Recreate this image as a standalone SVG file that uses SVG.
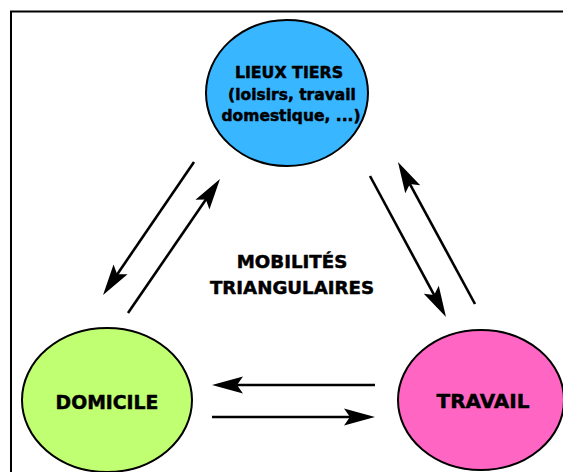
<svg xmlns="http://www.w3.org/2000/svg" width="563" height="472" viewBox="0 0 563 472">
<defs>
<style>
.node{stroke:#000;stroke-width:2}
.t{font-family:"DejaVu Sans","Open Sans",sans-serif;font-weight:bold;fill:#000;stroke:#000;stroke-width:0.5;stroke-linejoin:round;text-anchor:middle}
.c{stroke:#000;stroke-width:2.6;fill:none;marker-end:url(#ah)}
</style>
<marker id="ah" viewBox="-32 -10 34 20" markerWidth="34" markerHeight="20" refX="-24" refY="0" orient="auto" markerUnits="userSpaceOnUse">
<path d="M0,0 L-31,-8.5 L-25,0 L-31,8.5 Z" fill="#000"/>
</marker>
</defs>
<rect x="0" y="0" width="563" height="472" fill="#fff"/>
<rect x="11" y="11.5" width="600" height="500" fill="none" stroke="#000" stroke-width="2"/>
<g id="connectors">
<line class="c" x1="194" y1="162" x2="116.6" y2="275.2"/>
<line class="c" x1="128" y1="313" x2="206.4" y2="198.8"/>
<line class="c" x1="370" y1="176" x2="434.6" y2="295.9"/>
<line class="c" x1="475" y1="304" x2="409.4" y2="183.1"/>
<line class="c" x1="375" y1="385" x2="236" y2="385"/>
<line class="c" x1="212" y1="417" x2="351" y2="417"/>
</g>
<g id="lieux-tiers">
<ellipse class="node" cx="287" cy="93" rx="81" ry="73" fill="#38b6ff"/>
<text class="t" font-size="15.8" x="289" y="78">LIEUX TIERS</text>
<text class="t" font-size="15.5" x="292" y="100">(loisirs, travail</text>
<text class="t" font-size="15.5" x="291" y="121">domestique, ...)</text>
</g>
<g id="domicile">
<ellipse class="node" cx="107" cy="400" rx="85" ry="72" fill="#c1ff72"/>
<text class="t" font-size="18.8" x="107" y="409">DOMICILE</text>
</g>
<g id="travail">
<ellipse class="node" cx="481" cy="400" rx="83" ry="70" fill="#ff66c4"/>
<text class="t" font-size="20" x="483" y="408">TRAVAIL</text>
</g>
<g id="label">
<text class="t" font-size="18.2" x="292" y="268">MOBILITÉS</text>
<text class="t" font-size="18.2" x="292" y="294">TRIANGULAIRES</text>
</g>
</svg>
